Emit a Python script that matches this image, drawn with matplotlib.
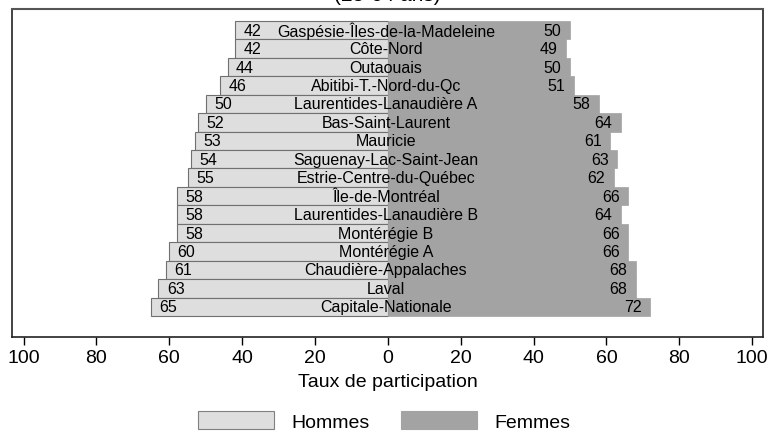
import matplotlib.pyplot as plt
import numpy as np

plt.rcParams['font.family'] = ['Liberation Sans', 'DejaVu Sans']

# === Data: participation rate, 25-64 years, by region ===
regions = ['Gaspésie-Îles-de-la-Madeleine', 'Côte-Nord', 'Outaouais',
           'Abitibi-T.-Nord-du-Qc', 'Laurentides-Lanaudière A',
           'Bas-Saint-Laurent', 'Mauricie', 'Saguenay-Lac-Saint-Jean',
           'Estrie-Centre-du-Québec', 'Île-de-Montréal',
           'Laurentides-Lanaudière B', 'Montérégie B', 'Montérégie A',
           'Chaudière-Appalaches', 'Laval', 'Capitale-Nationale']
hommes = [42, 42, 44, 46, 50, 52, 53, 54, 55, 58, 58, 58, 60, 61, 63, 65]
femmes = [50, 49, 50, 51, 58, 64, 61, 63, 62, 66, 64, 66, 66, 68, 68, 72]
ticks = [-100, -80, -60, -40, -20, 0, 20, 40, 60, 80, 100]

light = '#dedede'
dark = '#a3a3a3'

fig = plt.figure(figsize=(7.71, 4.35), dpi=100)
ax = fig.add_axes([12 / 771, 1 - 338 / 435, (763 - 12) / 771, (338 - 10) / 435])

y = np.arange(len(regions))
ax.barh(y, -np.array(hommes), height=1.0, color=light, edgecolor='#707070', linewidth=0.8, zorder=2)
ax.barh(y, femmes, height=1.0, color=dark, edgecolor=dark, linewidth=0.5, zorder=3)

fs = 11.5
for i in range(len(regions)):
    ax.text(-hommes[i] + 2.3, y[i], str(hommes[i]), ha='left', va='center', fontsize=fs, zorder=4)
    ax.text(femmes[i] - 2.3, y[i], str(femmes[i]), ha='right', va='center', fontsize=fs, zorder=4)
    ax.text(-0.5, y[i], regions[i], ha='center', va='center', fontsize=fs, zorder=4)

ax.set_xlim(-103.2, 103.0)
ax.set_ylim(16.64, -1.15)
ax.set_yticks([])
ax.set_xticks(ticks)
ax.set_xticklabels([str(abs(t)) for t in ticks], fontsize=14)
ax.tick_params(axis='x', length=6, width=1, direction='out', pad=3)
ax.set_xlabel('Taux de participation', fontsize=14, labelpad=5)

for s in ['left', 'right', 'bottom']:
    ax.spines[s].set_color('#222222')
    ax.spines[s].set_linewidth(1.2)
ax.spines['top'].set_color('#555555')
ax.spines['top'].set_linewidth(1.5)

# Title is cut off at the top in the original
fig.text(387 / 771, 1 - 0.8 / 435, '(25-64 ans)', ha='center', va='baseline', fontsize=15)

h1 = plt.Rectangle((0, 0), 1, 1, facecolor=light, edgecolor='#808080', linewidth=0.8)
h2 = plt.Rectangle((0, 0), 1, 1, facecolor=dark, edgecolor=dark, linewidth=0.8)
fig.legend([h1, h2], ['Hommes', 'Femmes'], loc='center', bbox_to_anchor=(384 / 771, 1 - 422 / 435),
           ncol=2, frameon=False, fontsize=14, handlelength=3.9, handleheight=1.05,
           handletextpad=0.9, columnspacing=1.6)

fig.savefig('out.png', dpi=100)
